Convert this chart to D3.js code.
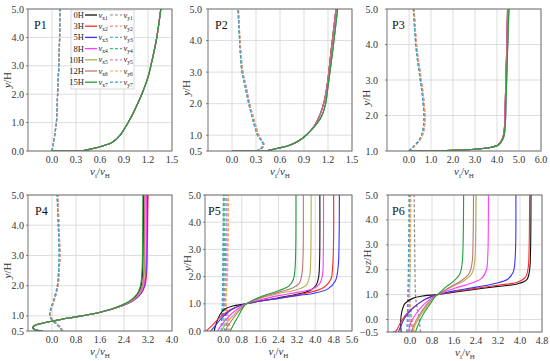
<!DOCTYPE html>
<html>
<head>
<meta charset="utf-8">
<script src="https://cdn.jsdelivr.net/npm/d3@7/dist/d3.min.js"></script>
<style>
  body { margin: 0; background: #fff; }
  text { font-family: "Liberation Serif", "Times New Roman", "DejaVu Serif", serif; }
</style>
</head>
<body>
<div id="chart"></div>
<script>
// series names / colours
const hours = ["0H", "3H", "5H", "8H", "10H", "12H", "15H"];
const vxColors = ["#111111", "#ff2a2a", "#3434ff", "#ff3cff", "#b4b04a", "#c47474", "#1e9e3a"];
const vyColors = ["#8a8a8a", "#ff8a8a", "#4cb2e0", "#3cc08c", "#c58cf5", "#ffa24a", "#4a9cc4"];

// tick labels
const ticksP1x = [0.0, 0.3, 0.6, 0.9, 1.2, 1.5];
const ticksP3x = [0.0, 1.0, 2.0, 3.0, 4.0, 5.0, 6.0];
const ticksP4x = [0.0, 0.8, 1.6, 2.4, 3.2, 4.0];
const ticksP5x = [0.0, 0.8, 1.6, 2.4, 3.2, 4.0, 4.8, 5.6];
const ticksP6x = [0.0, 0.8, 1.6, 2.4, 3.2, 4.0, 4.8];
const ticksY0 = [0.0, 1.0, 2.0, 3.0, 4.0, 5.0];
const ticksY05 = [0.5, 1.0, 2.0, 3.0, 4.0, 5.0];
const ticksY1 = [1.0, 2.0, 3.0, 4.0, 5.0];
const ticksYm05 = [-0.5, 0.0, 1.0, 2.0, 3.0, 4.0, 5.0];

// profiles as [v/vH, y/H]
const p1Vx = [[0.0,0],[0.2,0],[0.37,0.0],[0.5,0.08],[0.62,0.17],[0.75,0.3],[0.85,0.55],[0.93,0.9],[1.0,1.25],[1.06,1.6],[1.13,2.05],[1.2,2.6],[1.26,3.3],[1.31,4.0],[1.36,5.0]];
const p1Vy = [[0.0,0],[0.02,0.3],[0.04,0.7],[0.055,1.0],[0.07,2.0],[0.085,3.0],[0.095,4.0],[0.1,5.0]];

const p2VxA = [[0.0,0.5],[0.3,0.5],[0.42,0.5],[0.56,0.58],[0.73,0.69],[0.85,0.85],[0.94,1.03],[1.03,1.3],[1.1,1.65],[1.15,2.05],[1.19,2.6],[1.24,3.7],[1.3,5.0]];
const p2VxB = [[0.0,0.5],[0.3,0.5],[0.42,0.5],[0.56,0.58],[0.73,0.69],[0.85,0.85],[0.94,1.03],[1.04,1.3],[1.12,1.6],[1.17,2.0],[1.2,2.55],[1.26,3.7],[1.32,5.0]];
const p2VyA = [[0.3,0.5],[0.36,0.58],[0.39,0.7],[0.36,0.85],[0.32,1.0],[0.26,1.5],[0.21,2.0],[0.16,2.6],[0.125,3.0],[0.095,4.0],[0.075,5.0]];
const p2VyB = [[0.31,0.5],[0.37,0.58],[0.4,0.7],[0.37,0.85],[0.335,1.0],[0.275,1.5],[0.22,2.0],[0.17,2.6],[0.135,3.0],[0.1,4.0],[0.08,5.0]];

const p3VxA = [[0.0,1.0],[1.0,1.0],[2.0,1.02],[3.0,1.05],[3.7,1.1],[4.05,1.17],[4.25,1.35],[4.33,1.6],[4.38,2.46],[4.44,3.86],[4.48,5.0]];
const p3VxB = [[0.0,1.0],[1.0,1.0],[2.0,1.02],[3.0,1.05],[3.7,1.1],[4.07,1.17],[4.28,1.35],[4.36,1.6],[4.41,2.46],[4.48,3.86],[4.54,5.0]];
const p3VyA = [[0.0,1.0],[0.25,1.15],[0.5,1.35],[0.62,1.55],[0.68,1.9],[0.62,2.5],[0.53,2.93],[0.4,3.5],[0.33,3.86],[0.25,4.5],[0.2,5.0]];
const p3VyB = [[0.0,1.0],[0.27,1.15],[0.53,1.35],[0.66,1.55],[0.72,1.9],[0.66,2.5],[0.57,2.93],[0.44,3.5],[0.36,3.86],[0.28,4.5],[0.23,5.0]];

const p4Vx = [
  [[-0.32,0.5],[-0.52,0.52],[-0.62,0.57],[-0.64,0.63],[-0.57,0.69],[-0.37,0.75],[0.0,0.82],[0.5,0.92],[1.0,1.0],[1.6,1.12],[2.2,1.3],[2.62,1.5],[2.87,1.75],[2.97,2.0],[3.02,2.5],[3.04,3.5],[3.05,5.0]],
  [[-0.3,0.5],[-0.5,0.52],[-0.6,0.57],[-0.62,0.63],[-0.55,0.69],[-0.35,0.75],[0.0,0.82],[0.5,0.92],[1.0,1.0],[1.62,1.12],[2.25,1.3],[2.7,1.5],[2.98,1.75],[3.1,2.0],[3.16,2.5],[3.18,3.5],[3.2,5.0]],
  [[-0.3,0.5],[-0.5,0.52],[-0.6,0.57],[-0.62,0.63],[-0.55,0.69],[-0.35,0.75],[0.0,0.82],[0.5,0.92],[1.0,1.0],[1.62,1.12],[2.25,1.3],[2.7,1.5],[2.97,1.75],[3.08,2.0],[3.14,2.5],[3.16,3.5],[3.18,5.0]],
  [[-0.3,0.5],[-0.5,0.52],[-0.6,0.57],[-0.62,0.63],[-0.55,0.69],[-0.35,0.75],[0.0,0.82],[0.5,0.92],[1.0,1.0],[1.62,1.12],[2.24,1.3],[2.68,1.5],[2.95,1.75],[3.06,2.0],[3.12,2.5],[3.14,3.5],[3.15,5.0]],
  [[-0.3,0.5],[-0.5,0.52],[-0.6,0.57],[-0.62,0.63],[-0.55,0.69],[-0.35,0.75],[0.0,0.82],[0.5,0.92],[1.0,1.0],[1.61,1.12],[2.22,1.3],[2.66,1.5],[2.92,1.75],[3.03,2.0],[3.08,2.5],[3.1,3.5],[3.11,5.0]],
  [[-0.3,0.5],[-0.5,0.52],[-0.6,0.57],[-0.62,0.63],[-0.55,0.69],[-0.35,0.75],[0.0,0.82],[0.5,0.92],[1.0,1.0],[1.61,1.12],[2.22,1.3],[2.65,1.5],[2.9,1.75],[3.01,2.0],[3.06,2.5],[3.08,3.5],[3.09,5.0]],
  [[-0.3,0.5],[-0.5,0.52],[-0.6,0.57],[-0.62,0.63],[-0.55,0.69],[-0.35,0.75],[0.0,0.82],[0.5,0.92],[1.0,1.0],[1.6,1.12],[2.2,1.3],[2.6,1.5],[2.85,1.75],[2.95,2.0],[3.0,2.5],[3.02,3.5],[3.03,5.0]]
];
const p4VyA = [[0.33,0.5],[0.28,0.6],[0.15,0.72],[0.02,0.85],[-0.07,0.97],[-0.05,1.2],[0.05,1.5],[0.18,2.0],[0.22,2.5],[0.24,3.0],[0.21,4.0],[0.17,5.0]];
const p4VyB = [[0.36,0.5],[0.3,0.6],[0.17,0.72],[0.04,0.85],[-0.05,0.97],[-0.03,1.2],[0.07,1.5],[0.2,2.0],[0.24,2.5],[0.26,3.0],[0.23,4.0],[0.19,5.0]];

const p5Vx = [
  [[-0.4,0],[-0.3,0.3],[-0.15,0.6],[0.05,0.8],[0.4,0.92],[1.0,1.0],[1.6,1.1],[2.4,1.22],[3.2,1.35],[3.8,1.5],[4.05,1.7],[4.15,2.0],[4.19,2.6],[4.2,5.0]],
  [[-0.75,0],[-0.5,0.2],[-0.15,0.5],[0.3,0.78],[0.7,0.93],[1.0,1.0],[1.6,1.1],[2.4,1.2],[3.2,1.32],[3.9,1.45],[4.4,1.62],[4.68,1.9],[4.76,2.4],[4.8,3.5],[4.8,5.0]],
  [[-0.55,0],[-0.35,0.2],[-0.05,0.5],[0.35,0.78],[0.72,0.93],[1.0,1.0],[1.6,1.1],[2.4,1.2],[3.2,1.3],[4.0,1.4],[4.55,1.55],[4.88,1.85],[5.0,2.4],[5.04,3.5],[5.05,5.0]],
  [[-0.25,0],[-0.05,0.25],[0.25,0.55],[0.6,0.8],[1.0,1.0],[1.6,1.15],[2.4,1.3],[3.2,1.42],[3.9,1.55],[4.2,1.75],[4.32,2.1],[4.35,2.8],[4.36,5.0]],
  [[-0.1,0],[0.1,0.25],[0.4,0.55],[0.72,0.82],[1.0,1.0],[1.6,1.2],[2.4,1.38],[3.2,1.52],[3.6,1.68],[3.75,2.0],[3.8,2.6],[3.82,5.0]],
  [[0.05,0],[0.25,0.25],[0.5,0.55],[0.78,0.83],[1.0,1.0],[1.6,1.22],[2.4,1.42],[3.0,1.58],[3.3,1.75],[3.42,2.1],[3.47,2.8],[3.48,5.0]],
  [[0.3,0],[0.45,0.25],[0.65,0.55],[0.85,0.85],[1.0,1.0],[1.6,1.25],[2.4,1.48],[2.85,1.65],[3.05,1.9],[3.12,2.3],[3.15,3.0],[3.16,5.0]]
];
const p5Vy = [
  [[0.15,0],[0.1,0.5],[0.05,1.0],[0.08,2.0],[0.1,3.0],[0.12,4.0],[0.12,5.0]],
  [[0.25,0],[0.2,0.5],[0.1,1.0],[0.15,2.0],[0.18,3.0],[0.2,4.0],[0.2,5.0]],
  [[-0.05,0],[-0.05,0.5],[-0.02,1.0],[0.0,2.0],[0.0,3.0],[0.02,4.0],[0.02,5.0]],
  [[0.05,0],[0.02,0.5],[0.0,1.0],[0.03,2.0],[0.05,3.0],[0.05,4.0],[0.06,5.0]],
  [[0.2,0],[0.15,0.5],[0.08,1.0],[0.12,2.0],[0.14,3.0],[0.15,4.0],[0.16,5.0]],
  [[0.3,0],[0.22,0.5],[0.12,1.0],[0.18,2.0],[0.2,3.0],[0.22,4.0],[0.22,5.0]],
  [[-0.1,0],[-0.08,0.5],[-0.05,1.0],[-0.03,2.0],[-0.02,3.0],[-0.01,4.0],[0.0,5.0]]
];

const p6Vx = [
  [[-0.32,-0.5],[-0.34,-0.1],[-0.3,0.3],[-0.18,0.65],[0.1,0.85],[0.5,0.95],[1.0,1.0],[1.6,1.1],[2.4,1.22],[3.2,1.33],[3.9,1.43],[4.25,1.6],[4.35,2.0],[4.38,2.6],[4.4,5.0]],
  [[-0.62,-0.5],[-0.5,-0.45],[-0.38,-0.2],[-0.15,0.2],[0.2,0.55],[0.6,0.85],[1.0,1.0],[1.6,1.12],[2.4,1.25],[3.2,1.38],[3.9,1.5],[4.2,1.7],[4.3,2.1],[4.33,2.8],[4.35,5.0]],
  [[-0.42,-0.5],[-0.35,-0.3],[-0.2,0.05],[0.1,0.45],[0.5,0.78],[1.0,1.0],[1.6,1.15],[2.4,1.3],[3.1,1.45],[3.55,1.62],[3.75,1.9],[3.82,2.4],[3.85,5.0]],
  [[-0.05,-0.5],[0.0,-0.2],[0.2,0.2],[0.5,0.6],[0.8,0.88],[1.0,1.0],[1.6,1.25],[2.2,1.45],[2.6,1.65],[2.78,2.0],[2.83,2.6],[2.85,5.0]],
  [[0.1,-0.5],[0.2,-0.2],[0.4,0.2],[0.65,0.6],[0.88,0.9],[1.0,1.0],[1.5,1.3],[1.95,1.55],[2.25,1.85],[2.35,2.3],[2.38,3.0],[2.4,5.0]],
  [[0.05,-0.5],[0.15,-0.2],[0.35,0.2],[0.6,0.6],[0.85,0.88],[1.0,1.0],[1.45,1.3],[1.85,1.55],[2.15,1.85],[2.26,2.3],[2.29,3.0],[2.31,5.0]],
  [[0.2,-0.5],[0.3,-0.2],[0.5,0.25],[0.75,0.65],[0.92,0.93],[1.0,1.0],[1.3,1.3],[1.6,1.55],[1.82,1.85],[1.9,2.3],[1.93,3.0],[1.95,5.0]]
];
const p6Vy = [
  [[0.38,-0.5],[0.33,0.0],[0.25,0.5],[0.2,1.0],[0.18,2.0],[0.17,3.0],[0.16,4.0],[0.15,5.0]],
  [[0.05,-0.5],[0.0,0.0],[-0.05,0.5],[-0.05,1.0],[-0.03,2.0],[-0.02,3.0],[-0.01,4.0],[0.0,5.0]],
  [[-0.08,-0.5],[-0.06,0.0],[-0.04,1.0],[-0.03,2.0],[-0.02,3.0],[-0.02,4.0],[-0.01,5.0]],
  [[0.1,-0.5],[0.05,0.0],[0.0,0.5],[-0.02,1.0],[0.0,2.0],[0.0,3.0],[0.01,4.0],[0.02,5.0]],
  [[-0.02,-0.5],[-0.03,0.0],[-0.05,1.0],[-0.02,2.0],[-0.01,3.0],[0.0,4.0],[0.0,5.0]],
  [[0.15,-0.5],[0.08,0.0],[0.02,0.5],[-0.02,1.0],[0.0,2.0],[0.01,3.0],[0.02,4.0],[0.03,5.0]],
  [[-0.12,-0.5],[-0.1,0.0],[-0.08,1.0],[-0.06,2.0],[-0.05,3.0],[-0.04,4.0],[-0.04,5.0]]
];

const W = 550, H = 361;
const FONT = "Liberation Serif, Times New Roman, DejaVu Serif, serif";

// ty: gap between frame and y tick labels, tx: centre x of the y title
const panels = [
  { name: "P1", box: [28, 9, 172, 151], xd: [-0.3, 1.5], yd: [0, 5], xt: ticksP1x, yt: ticksY0, yv: "y",
    vx: [p1Vx, p1Vx, p1Vx, p1Vx, p1Vx, p1Vx, p1Vx], vy: [p1Vy, p1Vy, p1Vy, p1Vy, p1Vy, p1Vy, p1Vy], legend: true, lx: 6, ty: 4, tx: 7 },
  { name: "P2", box: [208, 9, 352, 151], xd: [-0.3, 1.5], yd: [0.5, 5], xt: ticksP1x, yt: ticksY05, yv: "y",
    vx: [p2VxA, p2VxA, p2VxB, p2VxA, p2VxB, p2VxA, p2VxB], vy: [p2VyB, p2VyB, p2VyA, p2VyA, p2VyB, p2VyB, p2VyA], lx: 7, ty: 6, tx: 186 },
  { name: "P3", box: [387, 9, 541, 151], xd: [-1, 6], yd: [1, 5], xt: ticksP3x, yt: ticksY1, yv: "y",
    vx: [p3VxA, p3VxA, p3VxB, p3VxA, p3VxB, p3VxA, p3VxB], vy: [p3VyB, p3VyB, p3VyA, p3VyA, p3VyB, p3VyB, p3VyA], lx: 5, ty: 9, tx: 366 },
  { name: "P4", box: [28, 195, 172, 331], xd: [-0.8, 4.0], yd: [0.5, 5], xt: ticksP4x, yt: ticksY05, yv: "y",
    vx: p4Vx, vy: [p4VyB, p4VyB, p4VyA, p4VyA, p4VyB, p4VyB, p4VyA], lx: 7, ty: 4, tx: 7 },
  { name: "P5", box: [205, 195, 352, 331], xd: [-0.8, 5.6], yd: [0, 5], xt: ticksP5x, yt: ticksY0, yv: "y",
    vx: p5Vx, vy: p5Vy, lx: 3, ty: 4, tx: 187 },
  { name: "P6", box: [388, 195, 542, 332], xd: [-0.8, 4.8], yd: [-0.5, 5], xt: ticksP6x, yt: ticksYm05, yv: "z",
    vx: p6Vx, vy: p6Vy, lx: 4, ty: 10, tx: 367 }
];

const svg = d3.select("#chart").append("svg")
  .attr("width", W).attr("height", H)
  .attr("viewBox", [0, 0, W, H].join(","))
  .attr("font-family", FONT);

const fmt = d3.format(".1f");

panels.forEach((p, pi) => {
  const [x0, y0, x1, y1] = p.box;
  const x = d3.scaleLinear().domain(p.xd).range([x0, x1]);
  const y = d3.scaleLinear().domain(p.yd).range([y1, y0]);
  const g = svg.append("g");

  // grid
  g.selectAll(".gx").data(p.xt).join("line")
    .attr("x1", d => x(d)).attr("x2", d => x(d)).attr("y1", y0).attr("y2", y1)
    .attr("stroke", "#d4d4d4").attr("stroke-width", 0.8);
  g.selectAll(".gy").data(p.yt).join("line")
    .attr("x1", x0).attr("x2", x1).attr("y1", d => y(d)).attr("y2", d => y(d))
    .attr("stroke", "#d4d4d4").attr("stroke-width", 0.8);

  // clip
  const cid = "clip" + pi;
  svg.append("clipPath").attr("id", cid).append("rect")
    .attr("x", x0).attr("y", y0).attr("width", x1 - x0).attr("height", y1 - y0);

  const line = d3.line().x(d => x(d[0])).y(d => y(d[1])).curve(d3.curveCatmullRom.alpha(0.5));
  const plot = g.append("g").attr("clip-path", `url(#${cid})`);

  // dashed v_y first, then solid v_x (green last on top)
  p.vy.forEach((s, i) => {
    plot.append("path").attr("d", line(s)).attr("fill", "none")
      .attr("stroke", vyColors[i]).attr("stroke-width", 1.2).attr("stroke-dasharray", "3,2");
  });
  p.vx.forEach((s, i) => {
    plot.append("path").attr("d", line(s)).attr("fill", "none")
      .attr("stroke", vxColors[i]).attr("stroke-width", 1.1);
  });

  // frame
  g.append("rect").attr("x", x0).attr("y", y0).attr("width", x1 - x0).attr("height", y1 - y0)
    .attr("fill", "none").attr("stroke", "#666").attr("stroke-width", 0.9);

  // ticks + labels
  g.selectAll(".tx").data(p.xt).join("text")
    .attr("x", d => x(d)).attr("y", y1 + 12)
    .attr("text-anchor", "middle").attr("font-size", 10).attr("fill", "#333")
    .text(d => fmt(d));
  g.selectAll(".ty").data(p.yt).join("text")
    .attr("x", x0 - p.ty).attr("y", d => y(d) + 3.5)
    .attr("text-anchor", "end").attr("font-size", 10).attr("fill", "#333")
    .text(d => fmt(d));
  g.selectAll(".tkx").data(p.yt).join("line")
    .attr("x1", x0 - 2).attr("x2", x0).attr("y1", d => y(d)).attr("y2", d => y(d))
    .attr("stroke", "#666").attr("stroke-width", 0.8);

  // axis titles
  const xt = g.append("text").attr("x", (x0 + x1) / 2).attr("y", y1 + 24)
    .attr("text-anchor", "middle").attr("font-size", 11).attr("fill", "#333");
  xt.append("tspan").attr("font-style", "italic").text("v");
  xt.append("tspan").attr("font-size", 7).attr("dy", 2.5).text("i");
  xt.append("tspan").attr("dy", -2.5).text("/");
  xt.append("tspan").attr("font-style", "italic").text("v");
  xt.append("tspan").attr("font-size", 7).attr("dy", 2.5).text("H");

  // y title sits between the 2.0 and 3.0 tick labels
  const yt = g.append("text")
    .attr("transform", `translate(${p.tx + 4},${y(2.5)}) rotate(-90)`)
    .attr("text-anchor", "middle").attr("font-size", 11).attr("fill", "#333");
  yt.append("tspan").attr("font-style", "italic").text(p.yv);
  yt.append("tspan").text("/H");

  // panel label
  g.append("text").attr("x", x0 + p.lx).attr("y", y0 + 20)
    .attr("font-size", 12).attr("fill", "#111").text(p.name);

  if (p.legend) {
    const lg = g.append("g");
    lg.append("rect").attr("x", 71).attr("y", 10).attr("width", 63).attr("height", 79)
      .attr("fill", "#fff").attr("stroke", "#bdbdbd").attr("stroke-width", 0.6);
    hours.forEach((h, i) => {
      const cy = 15 + i * 11.2;
      lg.append("text").attr("x", 84).attr("y", cy + 3).attr("text-anchor", "end")
        .attr("font-size", 8.5).attr("fill", "#222").text(h);
      lg.append("line").attr("x1", 85).attr("x2", 97).attr("y1", cy).attr("y2", cy)
        .attr("stroke", vxColors[i]).attr("stroke-width", 1.3);
      const t1 = lg.append("text").attr("x", 98.5).attr("y", cy + 2.5).attr("font-size", 8.5).attr("fill", "#222");
      t1.append("tspan").attr("font-style", "italic").text("v");
      t1.append("tspan").attr("font-size", 5.5).attr("dy", 2).text("x" + (i + 1));
      lg.append("line").attr("x1", 110).attr("x2", 122).attr("y1", cy).attr("y2", cy)
        .attr("stroke", vyColors[i]).attr("stroke-width", 1.2).attr("stroke-dasharray", "3,2");
      const t2 = lg.append("text").attr("x", 123.5).attr("y", cy + 2.5).attr("font-size", 8.5).attr("fill", "#222");
      t2.append("tspan").attr("font-style", "italic").text("v");
      t2.append("tspan").attr("font-size", 5.5).attr("dy", 2).text("y" + (i + 1));
    });
  }
});
</script>
</body>
</html>
